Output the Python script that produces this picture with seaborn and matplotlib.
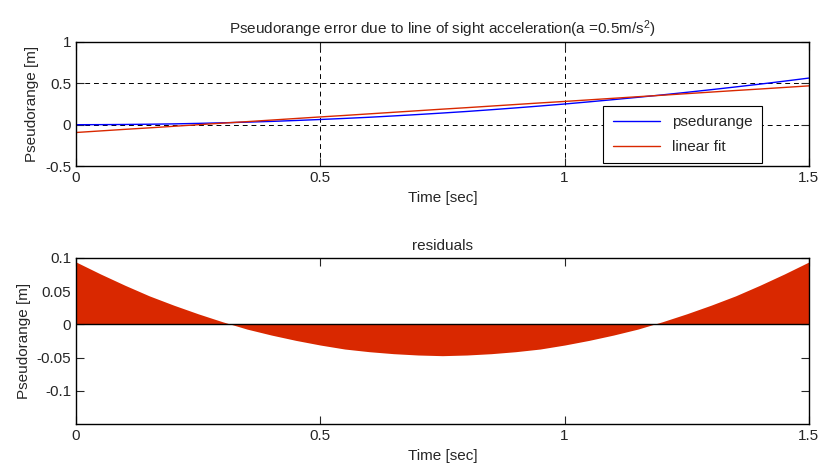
import numpy as np
import pandas as pd
import matplotlib
matplotlib.use('Agg')
import matplotlib.pyplot as plt
import seaborn as sns

# time samples [sec]
t = [0.00, 0.05, 0.10, 0.15, 0.20, 0.25, 0.30, 0.35, 0.40, 0.45,
     0.50, 0.55, 0.60, 0.65, 0.70, 0.75, 0.80, 0.85, 0.90, 0.95,
     1.00, 1.05, 1.10, 1.15, 1.20, 1.25, 1.30, 1.35, 1.40, 1.45, 1.50]

# pseudorange error [m]
pseudorange = [0.000, 0.001, 0.003, 0.006, 0.010, 0.016, 0.023, 0.031, 0.040, 0.051,
               0.063, 0.076, 0.090, 0.106, 0.123, 0.141, 0.160, 0.181, 0.203, 0.226,
               0.250, 0.276, 0.303, 0.331, 0.360, 0.391, 0.423, 0.456, 0.490, 0.526, 0.563]

# linear fit [m]
linear_fit = [-0.094, -0.075, -0.056, -0.038, -0.019, 0.000, 0.019, 0.037, 0.056, 0.075,
              0.094, 0.112, 0.131, 0.150, 0.169, 0.188, 0.206, 0.225, 0.244, 0.263,
              0.281, 0.300, 0.319, 0.338, 0.356, 0.375, 0.394, 0.413, 0.431, 0.450, 0.469]

# residuals (bottom panel) [m]
residuals = [0.094, 0.076, 0.059, 0.043, 0.029, 0.016, 0.004, -0.007, -0.016, -0.024,
             -0.031, -0.037, -0.041, -0.044, -0.046, -0.047, -0.046, -0.044, -0.041, -0.037,
             -0.031, -0.024, -0.016, -0.007, 0.004, 0.016, 0.029, 0.043, 0.059, 0.076, 0.094]

df = pd.DataFrame({'t': t, 'pseudorange': pseudorange,
                   'linear_fit': linear_fit, 'residuals': residuals})

sns.set_style('ticks')
plt.rcParams['font.family'] = ['Liberation Sans', 'DejaVu Sans']
plt.rcParams['mathtext.fontset'] = 'custom'
plt.rcParams['mathtext.rm'] = 'Liberation Sans'
plt.rcParams['mathtext.it'] = 'Liberation Sans'
plt.rcParams['font.size'] = 11
plt.rcParams['xtick.direction'] = 'in'
plt.rcParams['ytick.direction'] = 'in'

red = '#d92800'

fig = plt.figure(figsize=(8.22, 4.76), dpi=100)
ax1 = fig.add_axes([0.0925, 0.651, 0.8915, 0.261])
ax2 = fig.add_axes([0.0925, 0.109, 0.8915, 0.349])

# top panel
sns.lineplot(x='t', y='pseudorange', data=df, ax=ax1, color='#0000ff', lw=1, label='psedurange')
sns.lineplot(x='t', y='linear_fit', data=df, ax=ax1, color=red, lw=1, label='linear fit')
ax1.set_xlim(0, 1.5)
ax1.set_ylim(-0.5, 1)
ax1.set_xticks([0, 0.5, 1, 1.5])
ax1.set_xticklabels(['0', '0.5', '1', '1.5'])
ax1.set_yticks([-0.5, 0, 0.5, 1])
ax1.set_yticklabels(['-0.5', '0', '0.5', '1'])
ax1.grid(True, color='black', linestyle=(0, (5, 4)), lw=0.7)
ax1.set_title(r'Pseudorange error due to line of sight acceleration(a =0.5m/s$^{\mathregular{2}}$)',
              fontsize=11)
ax1.set_xlabel('Time [sec]')
ax1.set_ylabel('Pseudorange [m]')
leg = ax1.legend(loc='lower right', bbox_to_anchor=(0.936, 0.024), borderaxespad=0,
                 fancybox=False, edgecolor='black', framealpha=1, handlelength=3.1,
                 labelspacing=0.7, borderpad=0.6)
leg.get_frame().set_linewidth(0.8)

# bottom panel: residuals
ax2.fill_between(df['t'], 0, df['residuals'], color=red, lw=0)
ax2.axhline(0, color='black', lw=1)
ax2.set_xlim(0, 1.5)
ax2.set_ylim(-0.15, 0.1)
ax2.set_xticks([0, 0.5, 1, 1.5])
ax2.set_xticklabels(['0', '0.5', '1', '1.5'])
ax2.set_yticks([-0.1, -0.05, 0, 0.05, 0.1])
ax2.set_yticklabels(['-0.1', '-0.05', '0', '0.05', '0.1'])
ax2.set_title('residuals', fontsize=11)
ax2.set_xlabel('Time [sec]')
ax2.set_ylabel('Pseudorange [m]')

for ax in (ax1, ax2):
    ax.tick_params(top=True, right=True, length=6, width=0.8, labelsize=11)
    for s in ax.spines.values():
        s.set_color('black')
        s.set_linewidth(1)

fig.savefig('out.png', dpi=100)
